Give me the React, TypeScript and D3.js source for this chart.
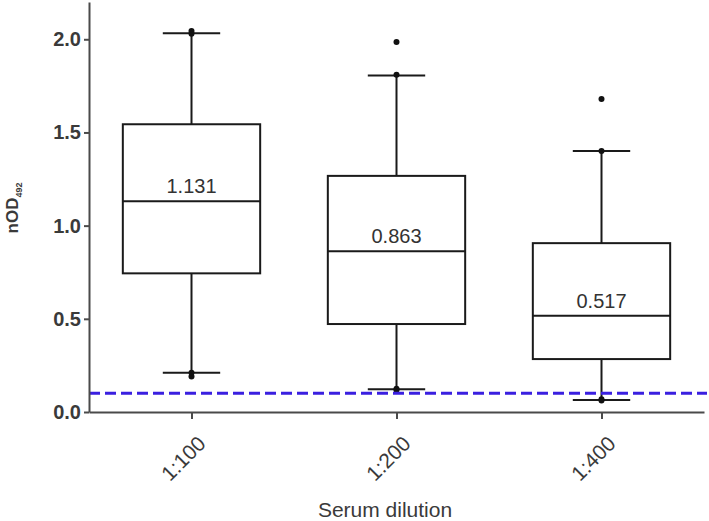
import React, { useRef, useEffect } from 'react'
import * as d3 from 'd3'

const categories = ['1:100', '1:200', '1:400']
const lowerWhisker = [0.211, 0.122, 0.064]
const q1 = [0.744, 0.472, 0.284]
const median = [1.131, 0.863, 0.517]
const q3 = [1.544, 1.267, 0.906]
const upperWhisker = [2.032, 1.805, 1.4]
const medianLabels = ['1.131', '0.863', '0.517']
const outliers = [
  [2.045, 2.03, 0.21, 0.19],
  [1.986, 1.81, 0.125, 0.118],
  [1.68, 1.4, 0.068, 0.062],
]
const yTicks = [0, 0.5, 1.0, 1.5, 2.0]
const cutoff = 0.1

const layout = {
  width: 709,
  height: 521,
  marginLeft: 89,
  marginRight: 5,
  marginTop: 2,
  marginBottom: 109,
}

export default function App() {
  const ref = useRef<SVGSVGElement>(null)

  useEffect(() => {
    const svg = d3.select(ref.current)
    svg.selectAll('*').remove()

    const font = 'Liberation Sans, Arial, sans-serif'
    const axisColor = '#4a4a4a'
    const y0 = layout.height - layout.marginBottom

    const x = d3.scalePoint<string>()
      .domain(categories)
      .range([layout.marginLeft, layout.width - layout.marginRight])
      .padding(0.5)

    const y = d3.scaleLinear()
      .domain([0, 2.2])
      .range([y0, layout.marginTop])

    const boxW = x.step() * 0.67
    const capW = x.step() * 0.14

    const rows = categories.map((c, i) => ({
      c, lo: lowerWhisker[i], q1: q1[i], med: median[i], q3: q3[i], hi: upperWhisker[i],
      label: medianLabels[i], pts: outliers[i],
    }))

    const g = svg.append('g')

    // whiskers + caps
    g.selectAll('.whisker')
      .data(rows)
      .join('path')
      .attr('class', 'whisker')
      .attr('fill', 'none')
      .attr('stroke', '#1a1a1a')
      .attr('stroke-width', 2)
      .attr('d', d => {
        const cx = x(d.c)!
        return `M${cx},${y(d.q3)}V${y(d.hi)}M${cx - capW},${y(d.hi)}H${cx + capW}` +
          `M${cx},${y(d.q1)}V${y(d.lo)}M${cx - capW},${y(d.lo)}H${cx + capW}`
      })

    // boxes
    g.selectAll('.box')
      .data(rows)
      .join('rect')
      .attr('class', 'box')
      .attr('x', d => x(d.c)! - boxW / 2)
      .attr('width', boxW)
      .attr('y', d => y(d.q3))
      .attr('height', d => y(d.q1) - y(d.q3))
      .attr('fill', 'white')
      .attr('stroke', '#1a1a1a')
      .attr('stroke-width', 2)

    g.selectAll('.median')
      .data(rows)
      .join('line')
      .attr('class', 'median')
      .attr('x1', d => x(d.c)! - boxW / 2)
      .attr('x2', d => x(d.c)! + boxW / 2)
      .attr('y1', d => y(d.med))
      .attr('y2', d => y(d.med))
      .attr('stroke', '#1a1a1a')
      .attr('stroke-width', 2)

    g.selectAll('.medlabel')
      .data(rows)
      .join('text')
      .attr('class', 'medlabel')
      .attr('x', d => x(d.c)!)
      .attr('y', d => y(d.med) - 8)
      .attr('text-anchor', 'middle')
      .attr('font-family', font)
      .attr('font-size', 20)
      .attr('fill', '#333')
      .text(d => d.label)

    // outlier points
    g.selectAll('.pts')
      .data(rows)
      .join('g')
      .attr('class', 'pts')
      .selectAll('circle')
      .data(d => d.pts.map(v => ({ c: d.c, v })))
      .join('circle')
      .attr('cx', d => x(d.c)!)
      .attr('cy', d => y(d.v))
      .attr('r', 3)
      .attr('fill', '#111')

    // cutoff line
    svg.append('line')
      .attr('x1', layout.marginLeft)
      .attr('x2', layout.width - 2)
      .attr('y1', y(cutoff))
      .attr('y2', y(cutoff))
      .attr('stroke', '#3a1fe0')
      .attr('stroke-width', 3)
      .attr('stroke-dasharray', '11,5')

    // y axis
    const yAxis = svg.append('g')
      .attr('transform', `translate(${layout.marginLeft},0)`)
      .call(d3.axisLeft(y).tickValues(yTicks).tickFormat(d3.format('.1f')).tickSize(5).tickPadding(3).tickSizeOuter(0))
    yAxis.select('.domain').attr('stroke', axisColor).attr('stroke-width', 2)
    yAxis.selectAll('.tick line').attr('stroke', axisColor).attr('stroke-width', 2)
    yAxis.selectAll('.tick text')
      .attr('font-family', font)
      .attr('font-size', 20)
      .attr('font-weight', 'bold')
      .attr('fill', '#3a3a3a')

    // x axis
    const xAxis = svg.append('g')
      .attr('transform', `translate(0,${y0})`)
      .call(d3.axisBottom(x).tickSize(7).tickSizeOuter(0))
    xAxis.select('.domain').attr('stroke', axisColor).attr('stroke-width', 2)
    xAxis.selectAll('.tick line').attr('stroke', axisColor).attr('stroke-width', 2)
    xAxis.selectAll('.tick text')
      .attr('font-family', font)
      .attr('font-size', 21)
      .attr('fill', '#3a3a3a')
      .attr('text-anchor', 'end')
      .attr('dy', 0)
      .attr('transform', 'translate(8,26) rotate(-45)')

    // axis titles
    svg.append('text')
      .attr('x', 385)
      .attr('y', 517)
      .attr('text-anchor', 'middle')
      .attr('font-family', font)
      .attr('font-size', 21)
      .attr('fill', '#3a3a3a')
      .text('Serum dilution')

    const yl = svg.append('text')
      .attr('transform', 'translate(18,208) rotate(-90)')
      .attr('text-anchor', 'middle')
      .attr('font-family', font)
      .attr('font-size', 17)
      .attr('font-weight', 'bold')
      .attr('fill', '#3a3a3a')
    yl.append('tspan').text('nOD')
    yl.append('tspan').attr('font-size', 9).attr('dy', 4).text('492')
  }, [])

  return (
    <svg
      ref={ref}
      width={layout.width}
      height={layout.height}
      style={{ position: 'absolute', left: 0, top: 0, background: 'white' }}
    />
  )
}
